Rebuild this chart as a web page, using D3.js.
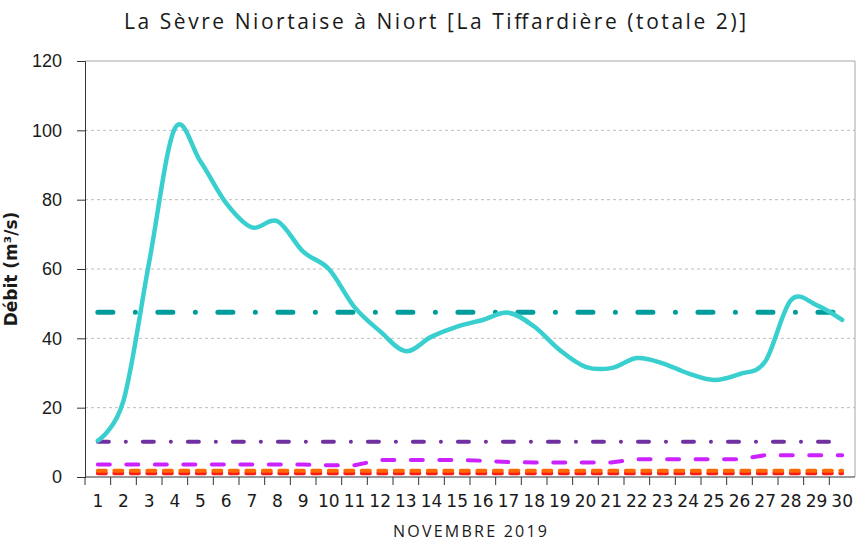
<!DOCTYPE html>
<html>
<head>
<meta charset="utf-8">
<script src="https://cdn.jsdelivr.net/npm/d3@7"></script>
<style>
  body { margin: 0; background: #fff; }
  text { fill: #1a1a1a; }
</style>
</head>
<body>
<div id="chart"></div>
<script>
// jours de novembre 2019
const days = [1,2,3,4,5,6,7,8,9,10,11,12,13,14,15,16,17,18,19,20,21,22,23,24,25,26,27,28,29,30];
// débit journalier (m3/s)
const debit = [10.5,22,62,100.5,91,79,72,73.8,65,60,49,42,36.3,40.5,43.4,45.3,47.4,43.4,36.6,31.8,31.4,34.3,32.8,29.9,28,29.7,33.3,51,49.6,45.3];
// module interannuel
const moduleVals = [47.5,47.5,47.5,47.5,47.5,47.5,47.5,47.5,47.5,47.5,47.5,47.5,47.5,47.5,47.5,47.5,47.5,47.5,47.5,47.5,47.5,47.5,47.5,47.5,47.5,47.5,47.5,47.5,47.5,47.5];
// seuil violet
const seuilHaut = [10.2,10.2,10.2,10.2,10.2,10.2,10.2,10.2,10.2,10.2,10.2,10.2,10.2,10.2,10.2,10.2,10.2,10.2,10.2,10.2,10.2,10.2,10.2,10.2,10.2,10.2,10.2,10.2,10.2,10.2];
// courbe magenta
const seuilVar = [3.6,3.6,3.6,3.6,3.6,3.6,3.6,3.6,3.6,3.4,3.4,4.9,4.9,4.9,4.9,4.7,4.3,4.2,4.2,4.2,4.2,5.1,5.1,5.1,5.1,5.1,6.3,6.3,6.3,6.3];
// seuils bas
const seuilOrange = [1.8,1.8,1.8,1.8,1.8,1.8,1.8,1.8,1.8,1.8,1.8,1.8,1.8,1.8,1.8,1.8,1.8,1.8,1.8,1.8,1.8,1.8,1.8,1.8,1.8,1.8,1.8,1.8,1.8,1.8];
const seuilRouge = [1.1,1.1,1.1,1.1,1.1,1.1,1.1,1.1,1.1,1.1,1.1,1.1,1.1,1.1,1.1,1.1,1.1,1.1,1.1,1.1,1.1,1.1,1.1,1.1,1.1,1.1,1.1,1.1,1.1,1.1];
const yTicks = [0,20,40,60,80,100,120];

const width = 860, height = 548;
const margin = { top: 61, right: 5, bottom: 71, left: 85 };
const innerW = width - margin.left - margin.right;
const innerH = height - margin.top - margin.bottom;

const svg = d3.select('#chart').append('svg')
  .attr('width', width)
  .attr('height', height)
  .style('font-family', '"DejaVu Sans", sans-serif');

const g = svg.append('g').attr('transform', `translate(${margin.left},${margin.top})`);

const x = d3.scaleBand().domain(days).range([0, innerW]);
const y = d3.scaleLinear().domain([0, 120]).range([innerH, 0]);
const cx = d => x(d) + x.bandwidth() / 2;

// grille
g.selectAll('.grid')
  .data(yTicks.filter(v => v > 0 && v < 120))
  .enter().append('line')
  .attr('x1', 0).attr('x2', innerW)
  .attr('y1', d => y(d)).attr('y2', d => y(d))
  .attr('stroke', '#bdbdbd')
  .attr('stroke-dasharray', '3,3');

// cadre haut et droit
g.append('path')
  .attr('d', `M0,${y(120)}H${innerW}V${innerH}`)
  .attr('fill', 'none')
  .attr('stroke', '#a6a6a6');

// axe y
const yAxis = g.append('g')
  .call(d3.axisLeft(y).tickValues(yTicks).tickSize(8).tickPadding(15));
yAxis.select('.domain').attr('stroke', '#333');
yAxis.selectAll('.tick line').attr('stroke', '#333');
yAxis.selectAll('text').style('font-size', '18px').attr('fill', '#1a1a1a');

// axe x : graduations aux limites des jours
const xAxis = g.append('g').attr('transform', `translate(0,${innerH})`);
xAxis.append('line')
  .attr('x1', 0).attr('x2', innerW)
  .attr('stroke', '#333');
xAxis.selectAll('.xt')
  .data(days)
  .enter().append('line')
  .attr('x1', d => x(d)).attr('x2', d => x(d))
  .attr('y1', 0).attr('y2', 8)
  .attr('stroke', '#333');
xAxis.selectAll('.xl')
  .data(days)
  .enter().append('text')
  .attr('x', d => cx(d))
  .attr('y', 30)
  .attr('text-anchor', 'middle')
  .style('font-size', '17px')
  .text(d => d);

// séries
const line = (curve) => d3.line()
  .x((d, i) => cx(days[i]))
  .y(d => y(d))
  .curve(curve);

function drawSeries(values, color, w, dash, curve) {
  g.append('path')
    .datum(values)
    .attr('fill', 'none')
    .attr('stroke', color)
    .attr('stroke-width', w)
    .attr('stroke-linecap', 'round')
    .attr('stroke-linejoin', 'round')
    .attr('stroke-dasharray', dash)
    .attr('d', line(curve || d3.curveLinear));
}

drawSeries(seuilRouge, '#ff1a1a', 4, '8,8.5');
drawSeries(seuilOrange, '#ff6a00', 4, '8,8.5');
drawSeries(seuilVar, '#cc22ff', 4, '12,16.5');
drawSeries(seuilHaut, '#7030a0', 4, '11,17,0.01,17');
drawSeries(moduleVals, '#009b9b', 5, '15,22.5,0.01,22.5');
drawSeries(debit, '#3acfcf', 4.5, null, d3.curveCardinal.tension(0));

// titres
svg.append('text')
  .attr('x', 435).attr('y', 29)
  .attr('text-anchor', 'middle')
  .attr('textLength', 622)
  .attr('lengthAdjust', 'spacing')
  .style('font-family', '"Open Sans", sans-serif')
  .style('font-size', '21px')
  .text('La Sèvre Niortaise à Niort [La Tiffardière (totale 2)]');

svg.append('text')
  .attr('transform', `translate(17,${margin.top + innerH / 2}) rotate(-90)`)
  .attr('text-anchor', 'middle')
  .style('font-size', '17px')
  .style('font-weight', 'bold')
  .text('Débit (m³/s)');

svg.append('text')
  .attr('x', 470).attr('y', 537)
  .attr('text-anchor', 'middle')
  .attr('textLength', 154)
  .attr('lengthAdjust', 'spacing')
  .style('font-family', '"Open Sans", sans-serif')
  .style('font-size', '16px')
  .text('NOVEMBRE 2019');
</script>
</body>
</html>
